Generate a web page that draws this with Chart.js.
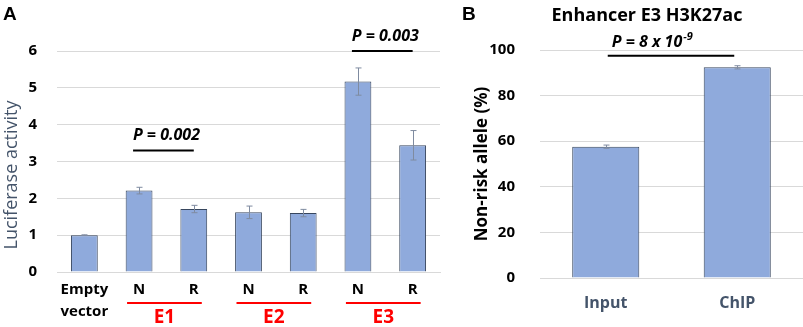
<!DOCTYPE html>
<html><head><meta charset="utf-8">
<script src="https://cdn.jsdelivr.net/npm/chart.js@4.4.0/dist/chart.umd.min.js"></script>
<style>
html,body{margin:0;padding:0;background:#fff;}
#wrap{position:relative;width:803px;height:327px;overflow:hidden;}
#ca{position:absolute;left:0;top:0;}
#cb{position:absolute;left:455px;top:0;}
</style></head>
<body><div id="wrap"><canvas id="ca" width="450" height="327"></canvas><canvas id="cb" width="348" height="327"></canvas></div>
<script>
// ---- Panel A data ----
const labelsA = [["Empty","vector"],"N","R","N","R","N","R"];
const valuesA = [1.0, 2.21, 1.71, 1.62, 1.60, 5.17, 3.44];
const errorsA = [0.01, 0.09, 0.10, 0.17, 0.10, 0.37, 0.40];
const ticksA = [0,1,2,3,4,5,6];
const groupsA = ["E1","E2","E3"];
const pvalsA = ["P = 0.002","P = 0.003"];
// ---- Panel B data ----
const labelsB = ["Input","ChIP"];
const valuesB = [57.6, 92.4];
const errorsB = [0.7, 0.7];
const ticksB = [0,20,40,60,80,100];
const titleB = "Enhancer E3 H3K27ac";

const FONT = "'Open Sans'";
const barFill = "#8faadc";
const barEdge = "#37465e";
const errColor = "#7f8ba0";
const gridColor = "#d9d9d9";

function errorBarPlugin(errors, cap){
  return {
    id:'errbars',
    afterDatasetsDraw(chart){
      const ctx = chart.ctx, meta = chart.getDatasetMeta(0), y = chart.scales.y;
      const vals = chart.data.datasets[0].data;
      ctx.save();
      ctx.strokeStyle = errColor; ctx.lineWidth = 1;
      meta.data.forEach((bar,i)=>{
        const x = Math.round(bar.x)+0.5;
        const yt = y.getPixelForValue(vals[i]+errors[i]);
        const yb = y.getPixelForValue(vals[i]-errors[i]);
        ctx.beginPath();
        ctx.moveTo(x,yt); ctx.lineTo(x,yb);
        ctx.moveTo(x-cap,yt); ctx.lineTo(x+cap,yt);
        ctx.moveTo(x-cap,yb); ctx.lineTo(x+cap,yb);
        ctx.stroke();
      });
      ctx.restore();
    }
  };
}

const annotA = {
  id:'annotA',
  afterDraw(chart){
    const ctx = chart.ctx, x = chart.scales.x, y = chart.scales.y;
    ctx.save();
    ctx.fillStyle = "#000"; ctx.font = "bold 19px 'Liberation Sans'";
    ctx.textAlign = "left"; ctx.textBaseline = "top";
    ctx.fillText("A", 3, 5);
    ctx.save();
    ctx.translate(12, 175); ctx.rotate(-Math.PI/2);
    ctx.fillStyle = "#44546a"; ctx.font = "18px " + FONT;
    ctx.textAlign = "center"; ctx.textBaseline = "middle";
    ctx.fillText("Luciferase activity", 0, 0);
    ctx.restore();
    groupsA.forEach((g,gi)=>{
      const xn = x.getPixelForValue(1+gi*2), xr = x.getPixelForValue(2+gi*2);
      ctx.strokeStyle = "#ff0000"; ctx.lineWidth = 2;
      ctx.beginPath(); ctx.moveTo(xn-12, 303); ctx.lineTo(xr+8, 303); ctx.stroke();
      ctx.fillStyle = "#ff0000"; ctx.font = "bold 19px " + FONT;
      ctx.textAlign = "center"; ctx.textBaseline = "middle";
      ctx.fillText(g, (xn+xr)/2-2, 318);
    });
    const pv = [[1,2,3.3,pvalsA[0]],[5,6,6.0,pvalsA[1]]];
    pv.forEach(([a,b,v,t])=>{
      const xa = x.getPixelForValue(a), xb = x.getPixelForValue(b);
      const yl = y.getPixelForValue(v);
      ctx.strokeStyle = "#000"; ctx.lineWidth = 2;
      ctx.beginPath(); ctx.moveTo(xa-6, yl); ctx.lineTo(xb, yl); ctx.stroke();
      ctx.fillStyle = "#000"; ctx.font = "italic bold 16px " + FONT;
      ctx.textAlign = "center"; ctx.textBaseline = "middle";
      ctx.fillText(t, (xa+xb)/2, yl-15);
    });
    ctx.restore();
  }
};

const annotB = {
  id:'annotB',
  afterDraw(chart){
    const ctx = chart.ctx, x = chart.scales.x, y = chart.scales.y;
    ctx.save();
    ctx.fillStyle = "#000"; ctx.font = "bold 19px 'Liberation Sans'";
    ctx.textAlign = "left"; ctx.textBaseline = "top";
    ctx.fillText("B", 7, 5);
    ctx.font = "bold 18px " + FONT; ctx.textAlign = "center"; ctx.textBaseline = "middle";
    ctx.fillText(titleB, 192, 16);
    const xa = x.getPixelForValue(0), xb = x.getPixelForValue(1);
    const yl = y.getPixelForValue(97.5);
    ctx.strokeStyle = "#000"; ctx.lineWidth = 2;
    ctx.beginPath(); ctx.moveTo(xa+2, yl); ctx.lineTo(xb-3, yl); ctx.stroke();
    ctx.font = "italic bold 16px " + FONT; ctx.textAlign = "left";
    const base = "P = 8 x 10";
    const x0 = xa + 6;
    ctx.fillText(base, x0, yl-13);
    const w = ctx.measureText(base).width;
    ctx.font = "italic bold 11px " + FONT;
    ctx.fillText("-9", x0 + w + 1, yl-19);
    ctx.restore();
  }
};

new Chart(document.getElementById('ca'), {
  type:'bar',
  data:{labels:labelsA, datasets:[{data:valuesA, backgroundColor:barFill, borderColor:barEdge, borderWidth:1, categoryPercentage:1, barPercentage:0.49}]},
  options:{
    responsive:false, animation:false,
    layout:{padding:{top:51, right:10, left:0, bottom:0}},
    plugins:{legend:{display:false}, tooltip:{enabled:false}},
    scales:{
      x:{
        grid:{display:false, drawTicks:false},
        border:{display:true, color:gridColor},
        ticks:{color:"#000", font:{family:FONT, size:15, weight:'bold', lineHeight:1.45}, padding:7, maxRotation:0, autoSkip:false},
        afterFit(s){ s.height = 55; }
      },
      y:{
        min:0, max:6,
        afterBuildTicks(s){ s.ticks = ticksA.map(v=>({value:v})); },
        grid:{color:gridColor, drawTicks:false},
        border:{display:false},
        ticks:{color:"#000", font:{family:FONT, size:15, weight:'bold'}, padding:20},
        afterFit(s){ s.width = 57; }
      }
    }
  },
  plugins:[errorBarPlugin(errorsA,3), annotA]
});

new Chart(document.getElementById('cb'), {
  type:'bar',
  data:{labels:labelsB, datasets:[{data:valuesB, backgroundColor:barFill, borderColor:barEdge, borderWidth:1, categoryPercentage:1, barPercentage:0.51}]},
  options:{
    responsive:false, animation:false,
    layout:{padding:{top:50, right:0, left:0, bottom:0}},
    plugins:{legend:{display:false}, tooltip:{enabled:false}},
    scales:{
      x:{
        grid:{display:false, drawTicks:false},
        border:{display:true, color:gridColor},
        ticks:{color:"#44546a", font:{family:FONT, size:16, weight:'bold'}, padding:16, maxRotation:0},
        afterFit(s){ s.height = 49; }
      },
      y:{
        min:0, max:100,
        afterBuildTicks(s){ s.ticks = ticksB.map(v=>({value:v})); },
        grid:{color:gridColor, drawTicks:false},
        border:{display:false},
        ticks:{color:"#000", font:{family:FONT, size:15, weight:'bold'}, padding:25},
        title:{display:true, text:"Non-risk allele (%)", color:"#000", font:{family:FONT, size:17, weight:'bold'}, padding:{top:17, bottom:0}},
        afterFit(s){ s.width = 85; }
      }
    }
  },
  plugins:[errorBarPlugin(errorsB,3), annotB]
});
</script></body></html>
